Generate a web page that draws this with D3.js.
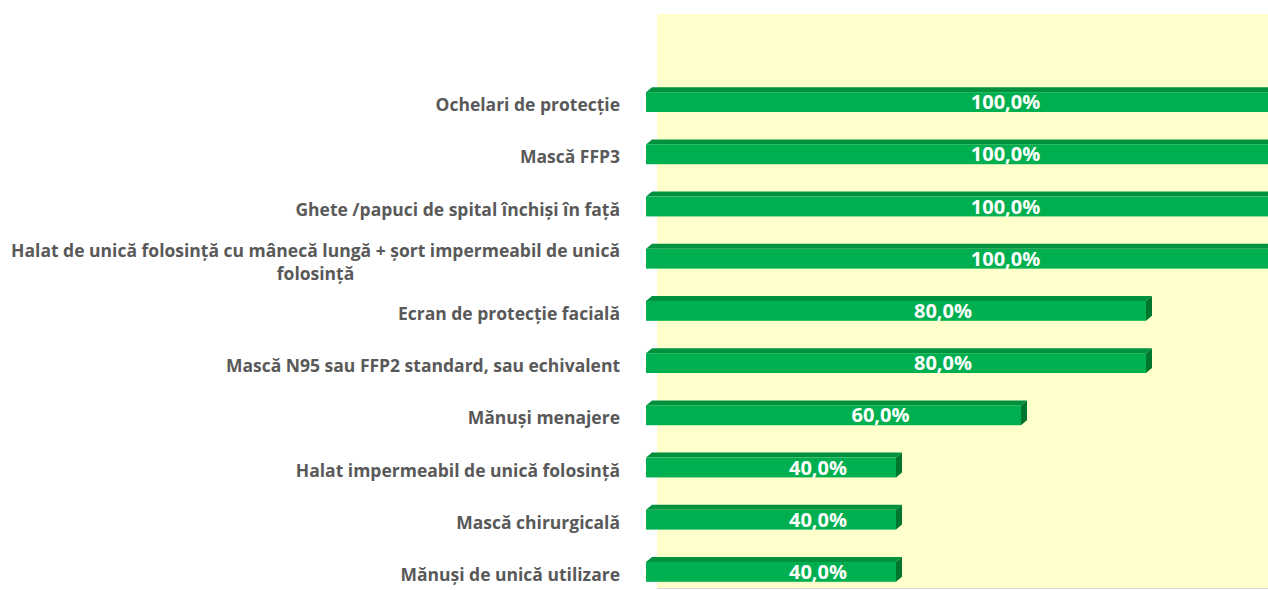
<!DOCTYPE html>
<html lang="ro">
<head>
<meta charset="utf-8">
<script src="https://cdn.jsdelivr.net/npm/d3@7/dist/d3.min.js"></script>
<style>
  html, body { margin: 0; padding: 0; background: #fff; }
  svg { display: block; }
</style>
</head>
<body>
<div id="chart"></div>
<script>
// echipamente de protectie - procent unitati dotate
const CATEGORIES = [
  ["Ochelari de protecție"],
  ["Mască FFP3"],
  ["Ghete /papuci de spital închiși în față"],
  ["Halat de unică folosință cu mânecă lungă + șort impermeabil de unică", "folosință"],
  ["Ecran de protecție facială"],
  ["Mască N95 sau FFP2 standard, sau echivalent"],
  ["Mănuși menajere"],
  ["Halat impermeabil de unică folosință"],
  ["Mască chirurgicală"],
  ["Mănuși de unică utilizare"],
];
const VALUES = [100, 100, 100, 100, 80, 80, 60, 40, 40, 40];

const W = 1268;
const H = 590;
const WALL = { left: 657, top: 14, bottom: 588 };
const DEPTH = { dx: 6, dy: 5 };
const LABEL_RIGHT = 620;
const FONT = "'Open Sans', Lato, sans-serif";
const COLORS = {
  wall: "#ffffcc",
  floor: "#d9d9d9",
  front: "#00b050",
  top: "#00913f",
  side: "#00762f",
  label: "#595959",
  value: "#ffffff",
};

const svg = d3.select("#chart").append("svg").attr("width", W).attr("height", H);

const x = d3.scaleLinear().domain([0, 100]).range([646, 1271]);
const y = d3
  .scaleBand()
  .domain(d3.range(CATEGORIES.length))
  .range([76, 598])
  .paddingInner(0.62)
  .paddingOuter(0.31);

// peretele din spate (galben) + linia podelei
svg
  .append("rect")
  .attr("x", WALL.left)
  .attr("y", WALL.top)
  .attr("width", W - WALL.left)
  .attr("height", WALL.bottom - WALL.top)
  .attr("fill", COLORS.wall);
svg
  .append("line")
  .attr("x1", WALL.left)
  .attr("x2", W)
  .attr("y1", WALL.bottom + 0.5)
  .attr("y2", WALL.bottom + 0.5)
  .attr("stroke", COLORS.floor);

const rows = VALUES.map((v, i) => ({ i, v, label: CATEGORIES[i] }));

const bars = svg
  .append("g")
  .selectAll("g.bar")
  .data(rows)
  .join("g")
  .attr("class", "bar");

// fata de sus si fata laterala, ca in graficul 3D din Excel
bars
  .append("path")
  .attr("fill", COLORS.top)
  .attr("d", (d) => {
    const x0 = x(0), x1 = x(d.v), y0 = y(d.i);
    return `M${x0},${y0}L${x0 + DEPTH.dx},${y0 - DEPTH.dy}L${x1 + DEPTH.dx},${y0 - DEPTH.dy}L${x1},${y0}Z`;
  });
bars
  .append("path")
  .attr("fill", COLORS.side)
  .attr("d", (d) => {
    const x1 = x(d.v), y0 = y(d.i), y1 = y(d.i) + y.bandwidth();
    return `M${x1},${y0}L${x1 + DEPTH.dx},${y0 - DEPTH.dy}L${x1 + DEPTH.dx},${y1 - DEPTH.dy}L${x1},${y1}Z`;
  });
bars
  .append("rect")
  .attr("x", x(0))
  .attr("y", (d) => y(d.i))
  .attr("width", (d) => x(d.v) - x(0))
  .attr("height", y.bandwidth())
  .attr("fill", COLORS.front);

bars
  .append("text")
  .attr("x", (d) => (x(0) + x(d.v)) / 2 + 47)
  .attr("y", (d) => y(d.i) + y.bandwidth() / 2 + 7)
  .attr("text-anchor", "middle")
  .attr("fill", COLORS.value)
  .attr("font-family", FONT)
  .attr("font-weight", 700)
  .attr("font-size", 20)
  .text((d) => d3.format(".1f")(d.v).replace(".", ",") + "%");

// etichetele categoriilor, aliniate la dreapta; cele pe doua randuri centrate
const labels = svg
  .append("g")
  .selectAll("text")
  .data(rows)
  .join("text")
  .attr("fill", COLORS.label)
  .attr("font-family", FONT)
  .attr("font-weight", 700)
  .attr("font-size", 17.5)
  .attr("text-anchor", (d) => (d.label.length > 1 ? "middle" : "end"));

labels.each(function (d) {
  const cy = y(d.i) + y.bandwidth() / 2;
  const t = d3.select(this);
  if (d.label.length === 1) {
    t.attr("x", LABEL_RIGHT).attr("y", cy + 9).text(d.label[0]);
    return;
  }
  const spans = d.label.map((line, k) =>
    t.append("tspan").attr("y", cy - 2 + k * 23).text(line),
  );
  const widest = d3.max(spans, (s) => s.node().getComputedTextLength());
  spans.forEach((s) => s.attr("x", LABEL_RIGHT - widest / 2));
});
</script>
</body>
</html>
